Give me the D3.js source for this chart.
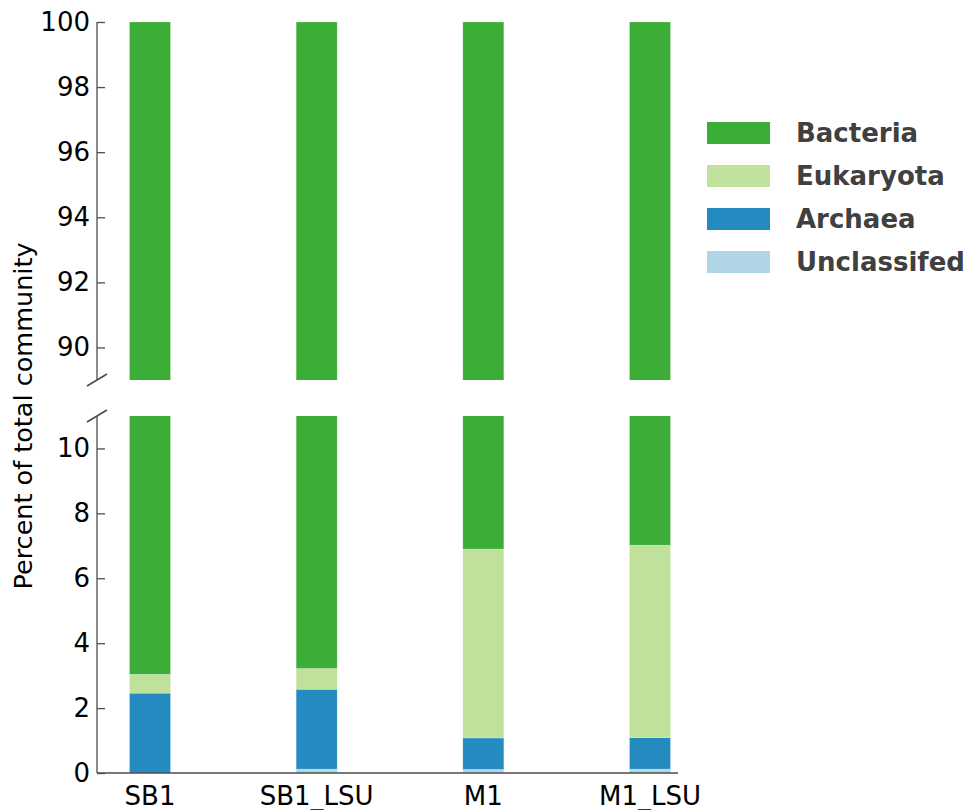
<!DOCTYPE html>
<html>
<head>
<meta charset="utf-8">
<script src="https://cdn.jsdelivr.net/npm/d3@7"></script>
<style>
  html, body { margin: 0; padding: 0; background: #fff; }
  svg { display: block; font-family: "DejaVu Sans", sans-serif; }
</style>
</head>
<body>
<svg id="chart" width="968" height="810"></svg>
<script>
// Community composition per sample (percent of total)
const categories   = ["SB1", "SB1_LSU", "M1", "M1_LSU"];
const unclassified = [0.00, 0.12, 0.11, 0.12];
const archaea      = [2.46, 2.46, 0.97, 0.97];
const eukaryota    = [0.58, 0.64, 5.82, 5.93];
const bacteria     = [96.96, 96.78, 93.10, 92.98];

const groups   = ["Unclassifed", "Archaea", "Eukaryota", "Bacteria"];
const legendOrder = ["Bacteria", "Eukaryota", "Archaea", "Unclassifed"];
const topTicks    = [90, 92, 94, 96, 98, 100];
const bottomTicks = [0, 2, 4, 6, 8, 10];

const colors = {
  "Bacteria": "#3cad37",
  "Eukaryota": "#bfe19b",
  "Archaea": "#238bc0",
  "Unclassifed": "#b0d5e6"
};

const rows = categories.map((c, i) => ({
  cat: c,
  "Unclassifed": unclassified[i],
  "Archaea": archaea[i],
  "Eukaryota": eukaryota[i],
  "Bacteria": bacteria[i]
}));
const series = d3.stack().keys(groups)(rows);

const svg = d3.select("#chart");
const axisX = 97, axisRight = 678;
const axisColor = "#4d4d4d";

const x = d3.scalePoint().domain(categories).range([150, 650]);
const barW = 41;

// Two panels of a broken y axis
const panels = [
  { id: "top",    y: d3.scaleLinear().domain([89, 100]).range([380, 22]),  ticks: topTicks,    breakAt: "bottom" },
  { id: "bottom", y: d3.scaleLinear().domain([0, 11]).range([773, 416]),   ticks: bottomTicks, breakAt: "top" }
];

const defs = svg.append("defs");

panels.forEach(p => {
  const [y0, y1] = p.y.range(); // y0 bottom pixel, y1 top pixel
  defs.append("clipPath").attr("id", "clip-" + p.id)
    .append("rect")
    .attr("x", axisX).attr("y", y1)
    .attr("width", axisRight - axisX).attr("height", y0 - y1);

  const g = svg.append("g").attr("clip-path", `url(#clip-${p.id})`);
  g.selectAll("g.layer").data(series).join("g")
    .attr("class", "layer")
    .attr("fill", d => colors[d.key])
    .selectAll("rect").data(d => d).join("rect")
    .attr("x", d => x(d.data.cat) - barW / 2)
    .attr("width", barW)
    .attr("y", d => p.y(d[1]))
    .attr("height", d => p.y(d[0]) - p.y(d[1]))
    .attr("stroke", "#fff")
    .attr("stroke-opacity", 0.35)
    .attr("stroke-width", 0.6);

  // y axis: inward ticks, no domain path (drawn separately)
  const ax = svg.append("g")
    .attr("transform", `translate(${axisX},0)`)
    .call(d3.axisRight(p.y).tickValues(p.ticks).tickSize(8).tickFormat(d3.format("d")));
  ax.select(".domain").remove();
  ax.selectAll(".tick line").attr("stroke", axisColor).attr("stroke-width", 1.3);
  ax.selectAll(".tick text")
    .attr("x", -7)
    .attr("text-anchor", "end")
    .attr("fill", "#000")
    .attr("font-size", 26)
    .attr("font-family", "DejaVu Sans, sans-serif");

  svg.append("line")
    .attr("x1", axisX).attr("x2", axisX)
    .attr("y1", y1).attr("y2", y0)
    .attr("stroke", axisColor).attr("stroke-width", 1.3);

  // diagonal break mark
  const by = p.breakAt === "bottom" ? y0 : y1;
  svg.append("line")
    .attr("x1", axisX - 10).attr("y1", by + 6)
    .attr("x2", axisX + 10).attr("y2", by - 6)
    .attr("stroke", axisColor).attr("stroke-width", 1.6);
});

// x axis along the bottom panel
const bottomY = panels[1].y(0);
svg.append("line")
  .attr("x1", axisX).attr("x2", axisRight)
  .attr("y1", bottomY).attr("y2", bottomY)
  .attr("stroke", axisColor).attr("stroke-width", 1.3);

svg.append("g").selectAll("text").data(categories).join("text")
  .attr("x", d => x(d))
  .attr("y", bottomY + 32)
  .attr("text-anchor", "middle")
  .attr("font-size", 26)
  .attr("fill", "#000")
  .text(d => d);

// y axis title
svg.append("text")
  .attr("transform", "translate(32,416) rotate(-90)")
  .attr("text-anchor", "middle")
  .attr("font-size", 25.5)
  .attr("fill", "#000")
  .text("Percent of total community");

// legend
const legend = svg.append("g").selectAll("g").data(legendOrder).join("g")
  .attr("transform", (d, i) => `translate(707,${133 + i * 43})`);
legend.append("rect")
  .attr("x", 0).attr("y", -11)
  .attr("width", 63).attr("height", 22)
  .attr("fill", d => colors[d]);
legend.append("text")
  .attr("x", 89).attr("y", 0)
  .attr("dy", "0.35em")
  .attr("font-size", 26)
  .attr("font-weight", "bold")
  .attr("fill", "#404040")
  .text(d => d);
</script>
</body>
</html>
